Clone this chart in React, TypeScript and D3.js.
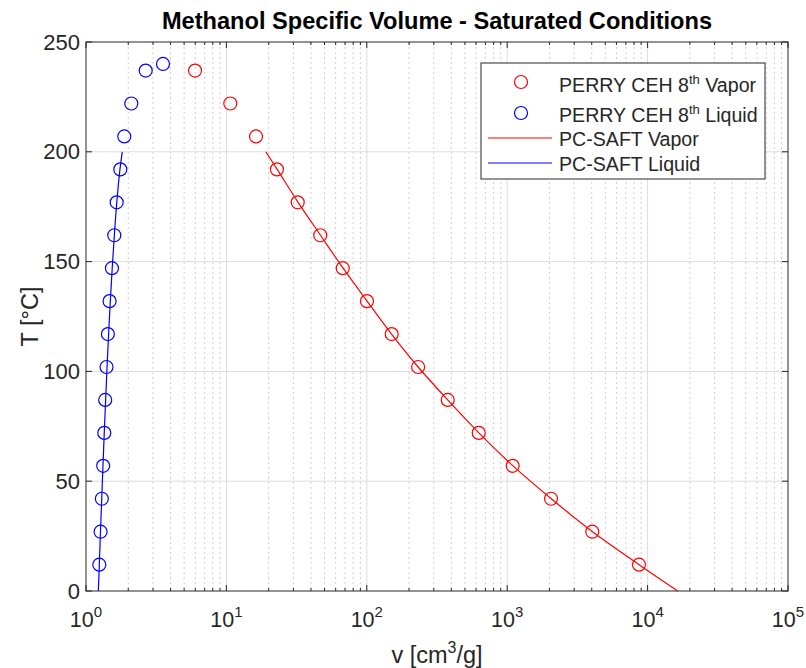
import React from "react";
import * as d3 from "d3";

// ---- data ----
const perryT = [12, 27, 42, 57, 72, 87, 102, 117, 132, 147, 162, 177, 192, 207, 222, 237];
const perryVapor = [8683, 4036, 2051, 1094, 627, 377, 232, 150.4, 100.3, 67.4, 46.6, 32.2, 22.9, 16.25, 10.66, 5.98];
const perryLiquidT = [12, 27, 42, 57, 72, 87, 102, 117, 132, 147, 162, 177, 192, 207, 222, 237, 240];
const perryLiquid = [1.244, 1.27, 1.297, 1.325, 1.35, 1.37, 1.4, 1.432, 1.472, 1.53, 1.59, 1.654, 1.755, 1.874, 2.102, 2.662, 3.535];

const saftT = [0, 12, 27, 42, 57, 72, 87, 102, 117, 132, 147, 162, 177, 192, 200];
const saftVapor = [16400, 8700, 4050, 2060, 1100, 628, 377, 232, 150, 100.5, 67.8, 46.8, 32.4, 23.0, 19.1];
const saftLiquid = [1.224, 1.244, 1.268, 1.294, 1.321, 1.349, 1.38, 1.412, 1.449, 1.49, 1.537, 1.592, 1.657, 1.745, 1.813];

const xTickExps = [0, 1, 2, 3, 4, 5];
const yTicks = [0, 50, 100, 150, 200, 250];

const W = 806;
const H = 668;
const M = { left: 86, right: 788, top: 42, bottom: 591 };
const FONT = "'Liberation Sans', Arial, Helvetica, sans-serif";
const AX = "#262626";

export default function App() {
  const x = d3.scaleLog().domain([1, 1e5]).range([M.left, M.right]);
  const y = d3.scaleLinear().domain([0, 250]).range([M.bottom, M.top]);

  const minor: number[] = [];
  for (let e = 0; e < 5; e++) {
    for (let k = 2; k <= 9; k++) minor.push(k * Math.pow(10, e));
  }

  const line = d3
    .line<[number, number]>()
    .x((d) => x(d[0]))
    .y((d) => y(d[1]))
    .curve(d3.curveCatmullRom);

  const vapPath = line(saftT.map((t, i) => [saftVapor[i], t]));
  const liqPath = line(saftT.map((t, i) => [saftLiquid[i], t]));

  const R = 6.5;
  const legX = 481;
  const legY = 63;
  const legW = 284;
  const legH = 116;

  return (
    <svg width={W} height={H} style={{ position: "absolute", left: 0, top: 0, background: "#fff" }} fontFamily={FONT}>
      <rect x={0} y={0} width={W} height={H} fill="#fff" />
      <rect x={M.left} y={M.top} width={M.right - M.left} height={M.bottom - M.top} fill="#fff" />
      {/* minor grid */}
      {minor.map((v) => (
        <line key={"mg" + v} x1={x(v)} x2={x(v)} y1={M.top} y2={M.bottom} stroke="#cfcfcf" strokeWidth={1} strokeDasharray="2,3" />
      ))}
      {/* major grid */}
      {xTickExps.slice(1, -1).map((e) => (
        <line key={"gx" + e} x1={x(Math.pow(10, e))} x2={x(Math.pow(10, e))} y1={M.top} y2={M.bottom} stroke="#dcdcdc" strokeWidth={1} />
      ))}
      {yTicks.slice(1, -1).map((t) => (
        <line key={"gy" + t} x1={M.left} x2={M.right} y1={y(t)} y2={y(t)} stroke="#dcdcdc" strokeWidth={1} />
      ))}

      {/* PC-SAFT lines */}
      <path d={vapPath || ""} fill="none" stroke="#ff0000" strokeWidth={1.2} />
      <path d={liqPath || ""} fill="none" stroke="#0000ff" strokeWidth={1.2} />

      {/* Perry markers */}
      {perryT.map((t, i) => (
        <circle key={"pv" + i} cx={x(perryVapor[i])} cy={y(t)} r={R} fill="none" stroke="#ff0000" strokeWidth={1.2} />
      ))}
      {perryLiquidT.map((t, i) => (
        <circle key={"pl" + i} cx={x(perryLiquid[i])} cy={y(t)} r={R} fill="none" stroke="#0000ff" strokeWidth={1.2} />
      ))}

      {/* ticks */}
      {minor.map((v) => (
        <g key={"mt" + v}>
          <line x1={x(v)} x2={x(v)} y1={M.bottom} y2={M.bottom - 3} stroke={AX} />
          <line x1={x(v)} x2={x(v)} y1={M.top} y2={M.top + 3} stroke={AX} />
        </g>
      ))}
      {xTickExps.map((e) => (
        <g key={"xt" + e}>
          <line x1={x(Math.pow(10, e))} x2={x(Math.pow(10, e))} y1={M.bottom} y2={M.bottom - 6} stroke={AX} />
          <line x1={x(Math.pow(10, e))} x2={x(Math.pow(10, e))} y1={M.top} y2={M.top + 6} stroke={AX} />
          <text x={x(Math.pow(10, e))} y={627} textAnchor="middle" fontSize={21.5} fill={AX}>
            10
            <tspan dy={-10} fontSize={15}>{e}</tspan>
          </text>
        </g>
      ))}
      {yTicks.map((t) => (
        <g key={"yt" + t}>
          <line x1={M.left} x2={M.left + 6} y1={y(t)} y2={y(t)} stroke={AX} />
          <line x1={M.right} x2={M.right - 6} y1={y(t)} y2={y(t)} stroke={AX} />
          <text x={80} y={y(t) + 7.5} textAnchor="end" fontSize={22} fill={AX}>
            {t}
          </text>
        </g>
      ))}

      {/* frame */}
      <rect x={M.left} y={M.top} width={M.right - M.left} height={M.bottom - M.top} fill="none" stroke={AX} strokeWidth={1} />

      {/* legend */}
      <rect x={legX} y={legY} width={legW} height={legH} fill="#fff" stroke={AX} strokeWidth={1} />
      <circle cx={521} cy={82} r={R} fill="none" stroke="#ff0000" strokeWidth={1.2} />
      <text x={559} y={91.5} fontSize={19.6} fill={AX}>
        PERRY CEH 8<tspan dy={-8} fontSize={13}>th</tspan>
        <tspan dy={8}> Vapor</tspan>
      </text>
      <circle cx={521} cy={113} r={R} fill="none" stroke="#0000ff" strokeWidth={1.2} />
      <text x={559} y={122} fontSize={19.6} fill={AX}>
        PERRY CEH 8<tspan dy={-8} fontSize={13}>th</tspan>
        <tspan dy={8}> Liquid</tspan>
      </text>
      <line x1={488} x2={552} y1={138} y2={138} stroke="#ff0000" strokeWidth={1.2} />
      <text x={559} y={145.5} fontSize={19.6} fill={AX}>PC-SAFT Vapor</text>
      <line x1={488} x2={552} y1={163} y2={163} stroke="#0000ff" strokeWidth={1.2} />
      <text x={559} y={170.5} fontSize={19.6} fill={AX}>PC-SAFT Liquid</text>

      {/* title and labels */}
      <text x={(M.left + M.right) / 2} y={29} textAnchor="middle" fontSize={23.6} fontWeight="bold" fill="#000">
        Methanol Specific Volume - Saturated Conditions
      </text>
      <text x={(M.left + M.right) / 2} y={663} textAnchor="middle" fontSize={23.5} fill={AX}>
        v [cm<tspan dy={-10} fontSize={16}>3</tspan>
        <tspan dy={10}>/g]</tspan>
      </text>
      <text transform={`translate(38, ${(M.top + M.bottom) / 2}) rotate(-90)`} textAnchor="middle" fontSize={23.5} fill={AX}>
        T [°C]
      </text>
    </svg>
  );
}
